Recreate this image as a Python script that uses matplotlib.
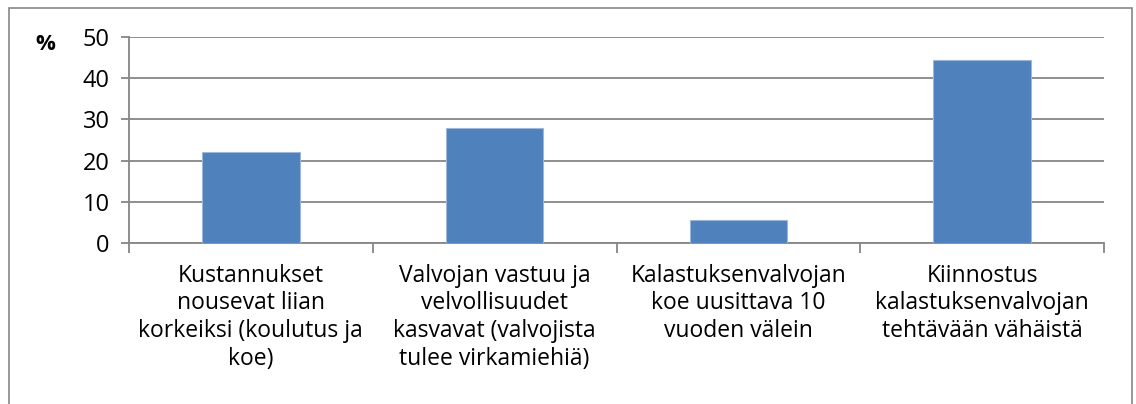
import numpy as np
import matplotlib.pyplot as plt
from matplotlib.patches import Rectangle

categories = [
    "Kustannukset\nnousevat liian\nkorkeiksi (koulutus ja\nkoe)",
    "Valvojan vastuu ja\nvelvollisuudet\nkasvavat (valvojista\ntulee virkamiehiä)",
    "Kalastuksenvalvojan\nkoe uusittava 10\nvuoden välein",
    "Kiinnostus\nkalastuksenvalvojan\ntehtävään vähäistä",
]
values = [22.2, 27.8, 5.6, 44.4]
yticks = [0, 10, 20, 30, 40, 50]

plt.rcParams['font.family'] = ['Open Sans', 'DejaVu Sans']
grid_col = '#868686'

fig = plt.figure(figsize=(11.36, 4.04), dpi=100)
ax = fig.add_axes([129 / 1136, 1 - 243 / 404, (1104 - 129) / 1136, (243 - 37) / 404])

# outer frame of the chart
fig.patches.append(Rectangle((9 / 1136, -0.01), (1132 - 9) / 1136, 1 - 8 / 404 + 0.01,
                             transform=fig.transFigure, fill=False,
                             edgecolor=grid_col, linewidth=1.2))

x = np.arange(len(values))
ax.bar(x, values, width=0.4, color='#4F81BD', edgecolor='#9DB7DA', linewidth=0.8, zorder=3)

ax.set_xlim(-0.5, len(values) - 0.5)
ax.set_ylim(0, 50)
ax.set_yticks(yticks)
ax.set_yticklabels([str(v) for v in yticks], fontsize=17)
ax.yaxis.grid(True, color=grid_col, linewidth=1.3)
ax.set_axisbelow(True)

ax.set_xticks(np.arange(len(values) + 1) - 0.5)
ax.set_xticklabels([])
ax.set_xticks(x, minor=True)
ax.set_xticklabels(categories, minor=True, fontsize=16.5, linespacing=1.2, ha='center', va='top')
ax.tick_params(axis='x', which='minor', length=0, pad=15)
ax.tick_params(axis='x', which='major', length=7, color=grid_col, width=1.3)
ax.tick_params(axis='y', length=6, color=grid_col, width=1.3, pad=8)

for s in ['top', 'right']:
    ax.spines[s].set_visible(False)
for s in ['left', 'bottom']:
    ax.spines[s].set_color(grid_col)
    ax.spines[s].set_linewidth(1.3)

fig.text(45 / 1136, 1 - 45 / 404, '%', fontsize=16, fontweight='bold', ha='center', va='center')

plt.savefig('out.png', dpi=100)
